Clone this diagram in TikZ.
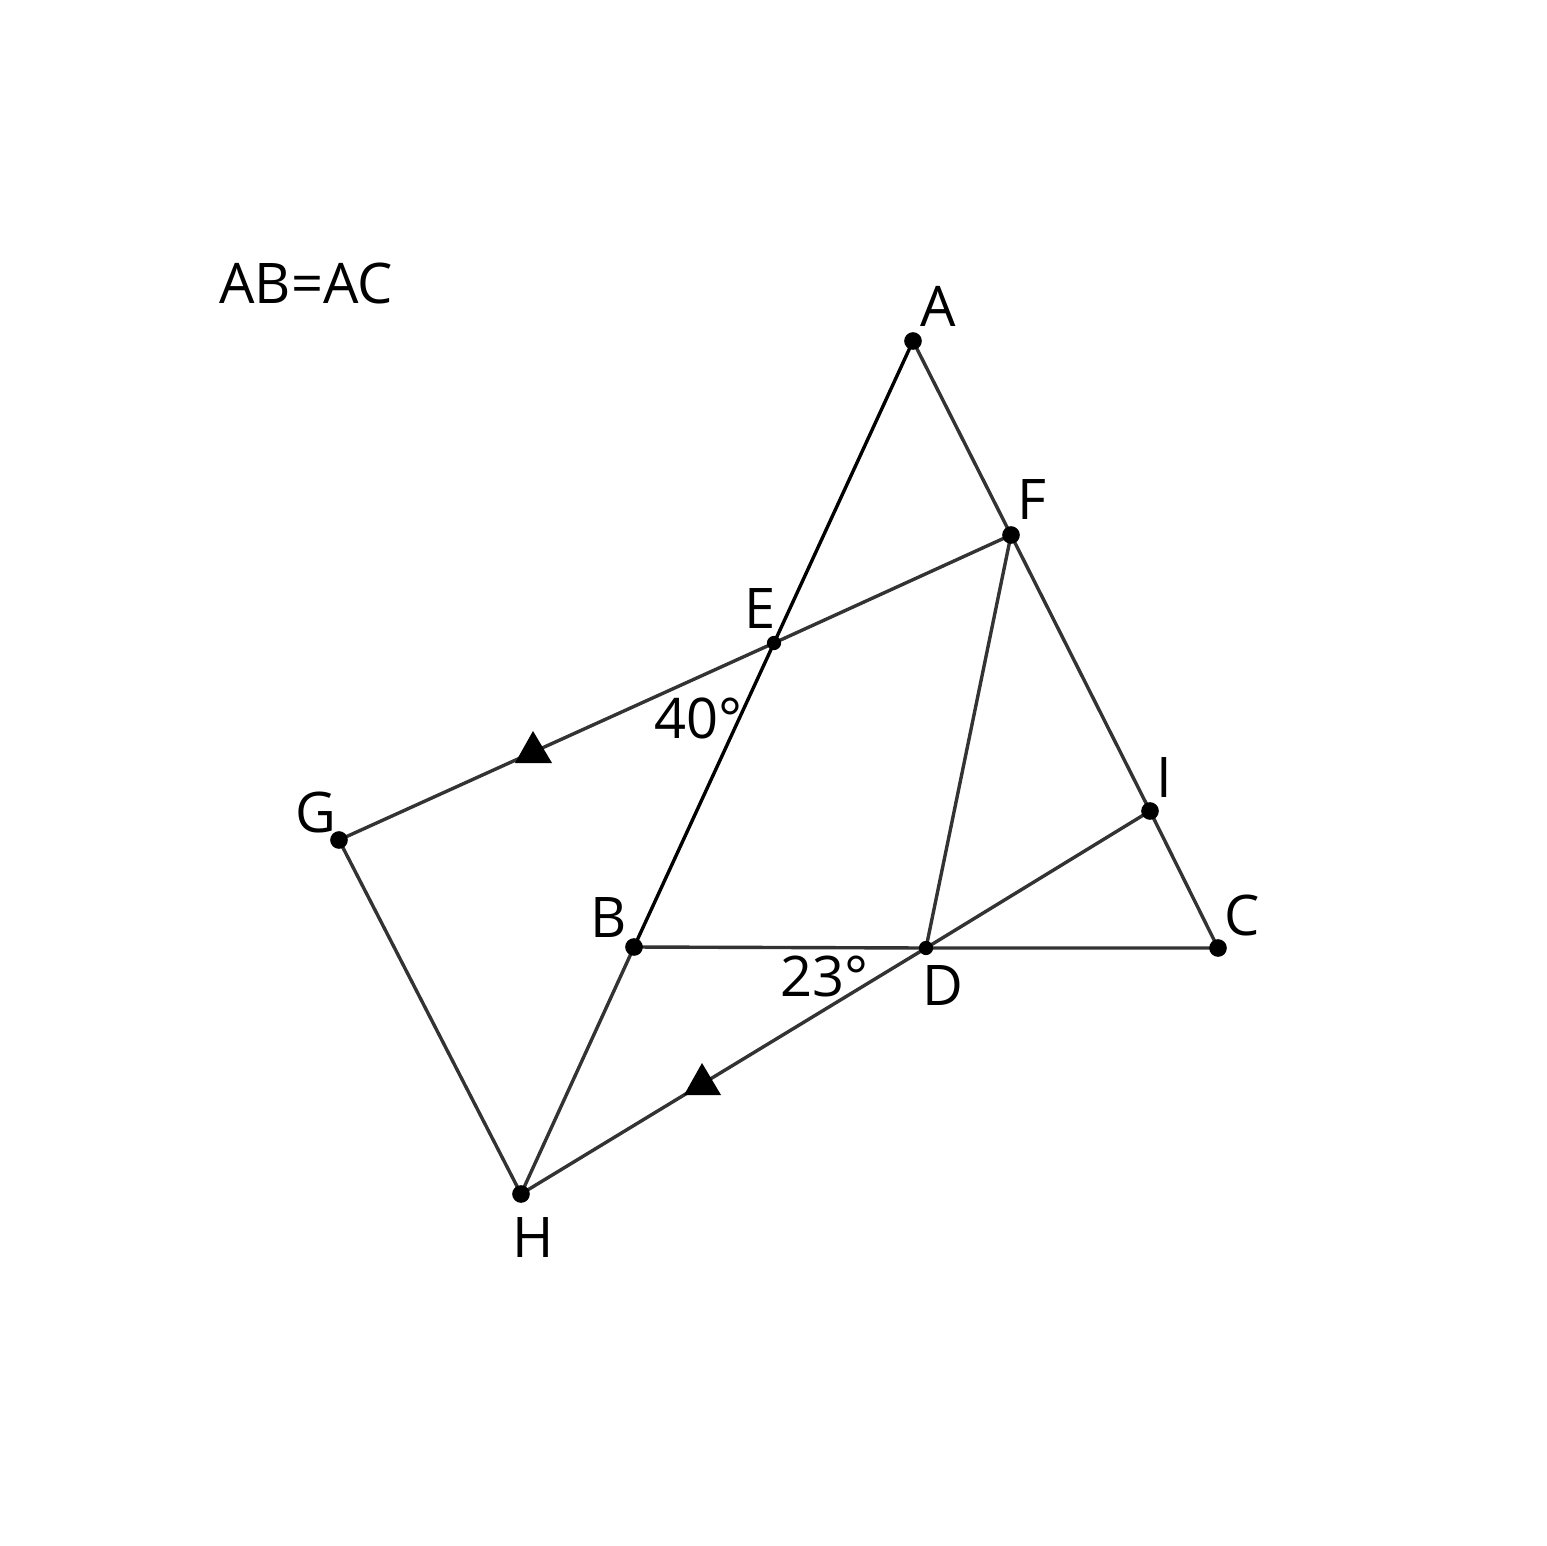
\documentclass[tikz,border=0pt]{standalone}
\usepackage{fontspec}
\setmainfont{Open Sans}
\begin{document}
\begin{tikzpicture}[x=0.5pt,y=-0.5pt,
  seg/.style={line width=1.7pt,draw=black!80},
  segk/.style={line width=1.7pt,draw=black},
  dot/.style={circle,fill=black,inner sep=0pt,minimum size=3.1mm},
  sdot/.style={circle,fill=black,inner sep=0pt,minimum size=2.5mm},
  lbl/.style={font=\fontsize{28}{34}\selectfont,inner sep=0pt},
  tri/.style={fill=black}]
\useasboundingbox (0,0) rectangle (1546,1546);
\coordinate (A) at (913,341);
\coordinate (F) at (1011,535);
\coordinate (E) at (774,643);
\coordinate (G) at (339,840);
\coordinate (B) at (634,947);
\coordinate (D) at (926,948);
\coordinate (C) at (1218,948);
\coordinate (I) at (1150,811);
\coordinate (H) at (521,1194);
\draw[segk] (A) -- (E) -- (B);
\draw[seg] (A) -- (F) -- (I) -- (C);
\draw[seg] (B) -- (D) -- (C);
\draw[seg] (F) -- (E) -- (G);
\draw[seg] (F) -- (D);
\draw[seg] (I) -- (D) -- (H);
\draw[seg] (G) -- (H) -- (B);
\fill[tri] (515,763) -- (533,731) -- (552,763) -- cycle;
\fill[tri] (684,1095) -- (702,1063) -- (721,1095) -- cycle;
\foreach \p in {A,F,G,B,C,I,H} \node[dot] (n\p) at (\p) {};
\foreach \p in {E,D} \node[sdot] (n\p) at (\p) {};
\node[lbl] (lA) at (938,306) {A};
\node[lbl] (lF) at (1032,500) {F};
\node[lbl] (lE) at (760,609) {E};
\node[lbl] (lG) at (316,812) {G};
\node[lbl] (lB) at (609,918) {B};
\node[lbl] (lD) at (943,986) {D};
\node[lbl] (lC) at (1242,915) {C};
\node[lbl] (lI) at (1164,778) {I};
\node[lbl] (lH) at (533,1237) {H};
\node[lbl] (a40) at (698,718) {40°};
\node[lbl] (a23) at (824,976) {23°};
\node[lbl] (t) at (306,283) {AB=AC};
\end{tikzpicture}
\end{document}
